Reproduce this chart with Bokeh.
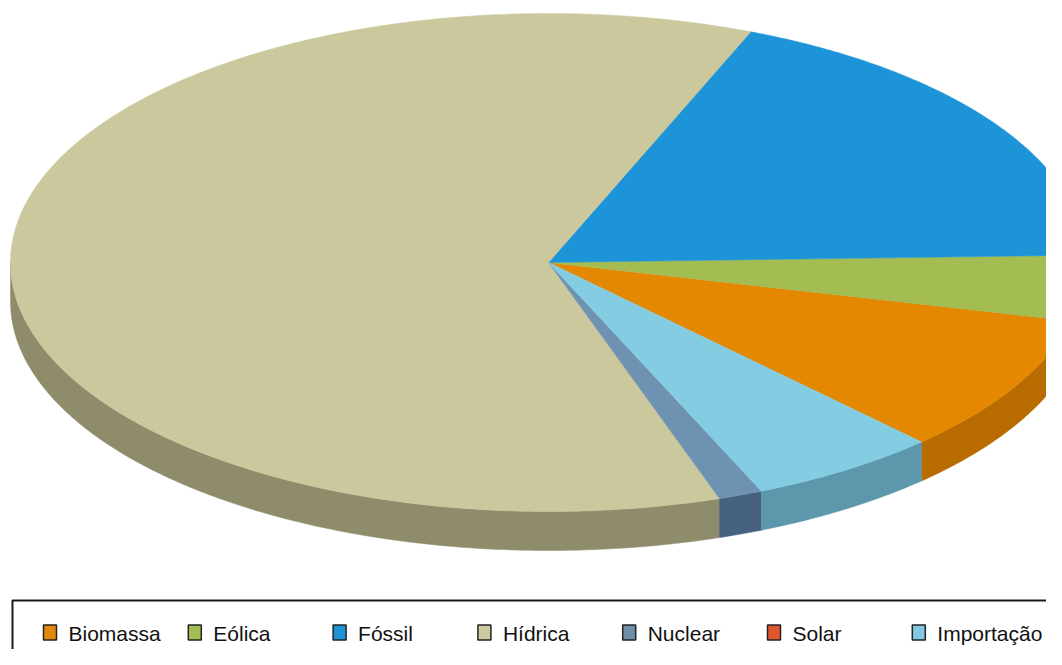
import numpy as np
from bokeh.plotting import figure
from bokeh.models import Range1d
from bokeh.core.properties import value
from bokeh.embed import file_html
from bokeh.resources import INLINE

# ---- data ----
categories = ["Biomassa", "Eólica", "Fóssil", "Hídrica", "Nuclear", "Solar", "Importação"]
shares = [9.03, 4.25, 18.40, 61.30, 1.33, 0.0, 5.72]
top_colors = ["#E38800", "#A4BD52", "#1E94D8", "#CBC89D", "#6E93B2", "#E0552B", "#83CCE2"]
side_colors = ["#B86C00", "#7F9440", "#17739F", "#8F8C6C", "#46627E", "#A53E1E", "#5D97AC"]
legend_colors = ["#E38A0C", "#A5BD55", "#1F93D8", "#CCC9A0", "#6F8FA8", "#E0562D", "#84C9E1"]

# ---- geometry (screen-pixel data space) ----
CX, CY = 548.0, 262.0
A, B = 538.0, 249.0
DEPTH = 39.0
START_DEG = -46.1

W, H = 1046, 649
p = figure(width=W, height=H, output_backend="svg", toolbar_location=None,
           x_range=Range1d(0, W), y_range=Range1d(H, 0),
           min_border=0, background_fill_color="white")
p.axis.visible = False
p.grid.visible = False
p.outline_line_color = None

vals = np.array(shares, dtype=float)
angles = vals / vals.sum() * 360.0
bounds = START_DEG + np.concatenate([[0], np.cumsum(angles)])


def pt(theta_deg, dy=0.0):
    t = np.radians(theta_deg)
    return CX + A * np.cos(t), CY - B * np.sin(t) + dy


side_xs, side_ys, side_cols = [], [], []
top_xs, top_ys, top_cols = [], [], []
for i in range(len(categories)):
    t0, t1 = bounds[i], bounds[i + 1]
    if t1 - t0 <= 0:
        continue
    # top face wedge
    ts = np.linspace(t0, t1, max(3, int((t1 - t0) * 2) + 2))
    xs, ys = pt(ts)
    top_xs.append([CX] + list(xs))
    top_ys.append([CY] + list(ys))
    top_cols.append(top_colors[i])
    # visible side wall: front half, theta in [180,360] mod 360
    for lo, hi in [(-180.0, 0.0), (180.0, 360.0), (540.0, 720.0)]:
        a0, a1 = max(t0, lo), min(t1, hi)
        if a1 > a0:
            ts2 = np.linspace(a0, a1, max(3, int((a1 - a0) * 2) + 2))
            x1, y1 = pt(ts2)
            x2, y2 = pt(ts2[::-1], DEPTH)
            side_xs.append(list(x1) + list(x2))
            side_ys.append(list(y1) + list(y2))
            side_cols.append(side_colors[i])

p.patches(side_xs, side_ys, fill_color=side_cols, line_color=side_cols, line_width=0.5)
p.patches(top_xs, top_ys, fill_color=top_cols, line_color=top_cols, line_width=0.5)

# ---- legend ----
p.quad(left=12, right=1100, top=600, bottom=720, fill_color="white",
       line_color="#1a1a1a", line_width=2)
n = len(categories)
sq_left = 43 + 144.8 * np.arange(n)
p.quad(left=sq_left, right=sq_left + 13, top=624.5, bottom=639.5,
       fill_color=legend_colors, line_color="#222222", line_width=1.5)
p.text(x=sq_left + 25, y=[632.5] * n, text=categories,
       text_font=value("Liberation Sans"), text_font_size="21px",
       text_color="#111111", text_baseline="middle", text_align="left")

open("out.html", "w").write(file_html(p, INLINE))
